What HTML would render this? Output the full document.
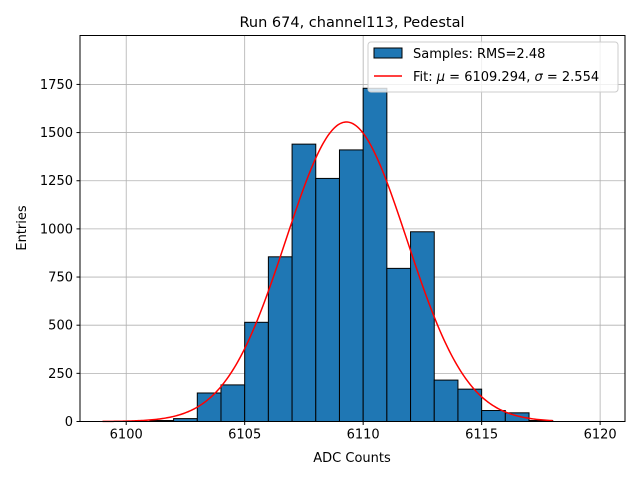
<!DOCTYPE html>
<html><head><meta charset="utf-8"><style>
body{margin:0;background:#fff;font-family:"Liberation Sans","DejaVu Sans",sans-serif}
svg text{font-family:"DejaVu Sans","Liberation Sans",sans-serif;fill:#000}
</style></head><body>
<svg id="chart" width="640" height="480">
<rect x="0" y="0" width="640" height="480" fill="#fff"/>
<g id="grid"></g>
<g id="bars"></g>
<path id="fit" fill="none" stroke="#ff0000" stroke-width="1.5"/>
<rect x="80" y="35.5" width="545" height="386" fill="none" stroke="#000" stroke-width="1"/>
<g id="ticks"></g>
<text x="352" y="27" font-size="14.5" text-anchor="middle">Run 674, channel113, Pedestal</text>
<text x="352" y="462" font-size="13" text-anchor="middle">ADC Counts</text>
<text x="26" y="228" font-size="13" text-anchor="middle" transform="rotate(-90 26 228)">Entries</text>
<g>
<rect x="368" y="42" width="250" height="50" rx="3" fill="#fff" fill-opacity="0.8" stroke="#ccc"/>
<rect x="374" y="48" width="28" height="10" fill="#1f77b4" stroke="#000"/>
<text x="413" y="58" font-size="13">Samples: RMS=2.48</text>
<line x1="374" y1="76" x2="402" y2="76" stroke="#ff0000" stroke-width="1.5"/>
<text x="413" y="81" font-size="13">Fit: <tspan font-style="italic">μ</tspan> = 6109.294, <tspan font-style="italic">σ</tspan> = 2.554</text>
</g>
</svg>
<script>
const binStarts=[6099,6100,6101,6102,6103,6104,6105,6106,6107,6108,6109,6110,6111,6112,6113,6114,6115,6116,6117];
const counts=[0,0,5,15,148,190,515,855,1440,1262,1410,1730,795,985,215,168,57,45,5];
const xTicks=[6100,6105,6110,6115,6120];
const yTicks=[0,250,500,750,1000,1250,1500,1750];
const fitAmp=1555, fitMu=6109.294, fitSigma=2.554;
const fitRange=[6099,6118];
const NS='http://www.w3.org/2000/svg';
const X0=80,X1=625,Y0=421.5,Y1=35.5,xmin=6098.05,xmax=6121.05,ymin=0,ymax=2004;
const xs=v=>X0+(v-xmin)/(xmax-xmin)*(X1-X0);
const ys=v=>Y0-(v-ymin)/(ymax-ymin)*(Y0-Y1);
function mk(t,a,p){const e=document.createElementNS(NS,t);for(const k in a)e.setAttribute(k,a[k]);p.appendChild(e);return e;}
const grid=document.getElementById('grid'),ticks=document.getElementById('ticks'),bars=document.getElementById('bars');
xTicks.forEach(t=>{const x=xs(t);
 const g=mk('line',{x1:x,x2:x,y1:Y1,y2:Y0,stroke:'#b0b0b0','stroke-width':0.8},grid);
 
 
 mk('line',{x1:x,x2:x,y1:Y0,y2:Y0+3.5,stroke:'#000'},ticks);
 const l=mk('text',{x:x,y:Y0+17,'font-size':13,'text-anchor':'middle'},ticks);l.textContent=t;
 
 });
yTicks.forEach(t=>{const y=ys(t);
 const g=mk('line',{x1:X0,x2:X1,y1:y,y2:y,stroke:'#b0b0b0','stroke-width':0.8},grid);
 
 
 mk('line',{x1:X0-3.5,x2:X0,y1:y,y2:y,stroke:'#000'},ticks);
 const l=mk('text',{x:X0-7,y:y+4.5,'font-size':13,'text-anchor':'end'},ticks);l.textContent=t;
 
 });
binStarts.forEach((b,i)=>{if(counts[i]<=0)return;const x=xs(b),w=xs(b+1)-x,y=ys(counts[i]);
 const r=mk('rect',{x:x,y:y,width:w,height:ys(0)-y,fill:'#1f77b4',stroke:'#000','stroke-width':1},bars);
 
 });
let d='';for(let k=0;k<=300;k++){const v=fitRange[0]+(fitRange[1]-fitRange[0])*k/300;
 const f=fitAmp*Math.exp(-0.5*((v-fitMu)/fitSigma)**2);d+=(k?'L':'M')+xs(v).toFixed(2)+' '+ys(f).toFixed(2);}
document.getElementById('fit').setAttribute('d',d);
</script>
</body></html>
